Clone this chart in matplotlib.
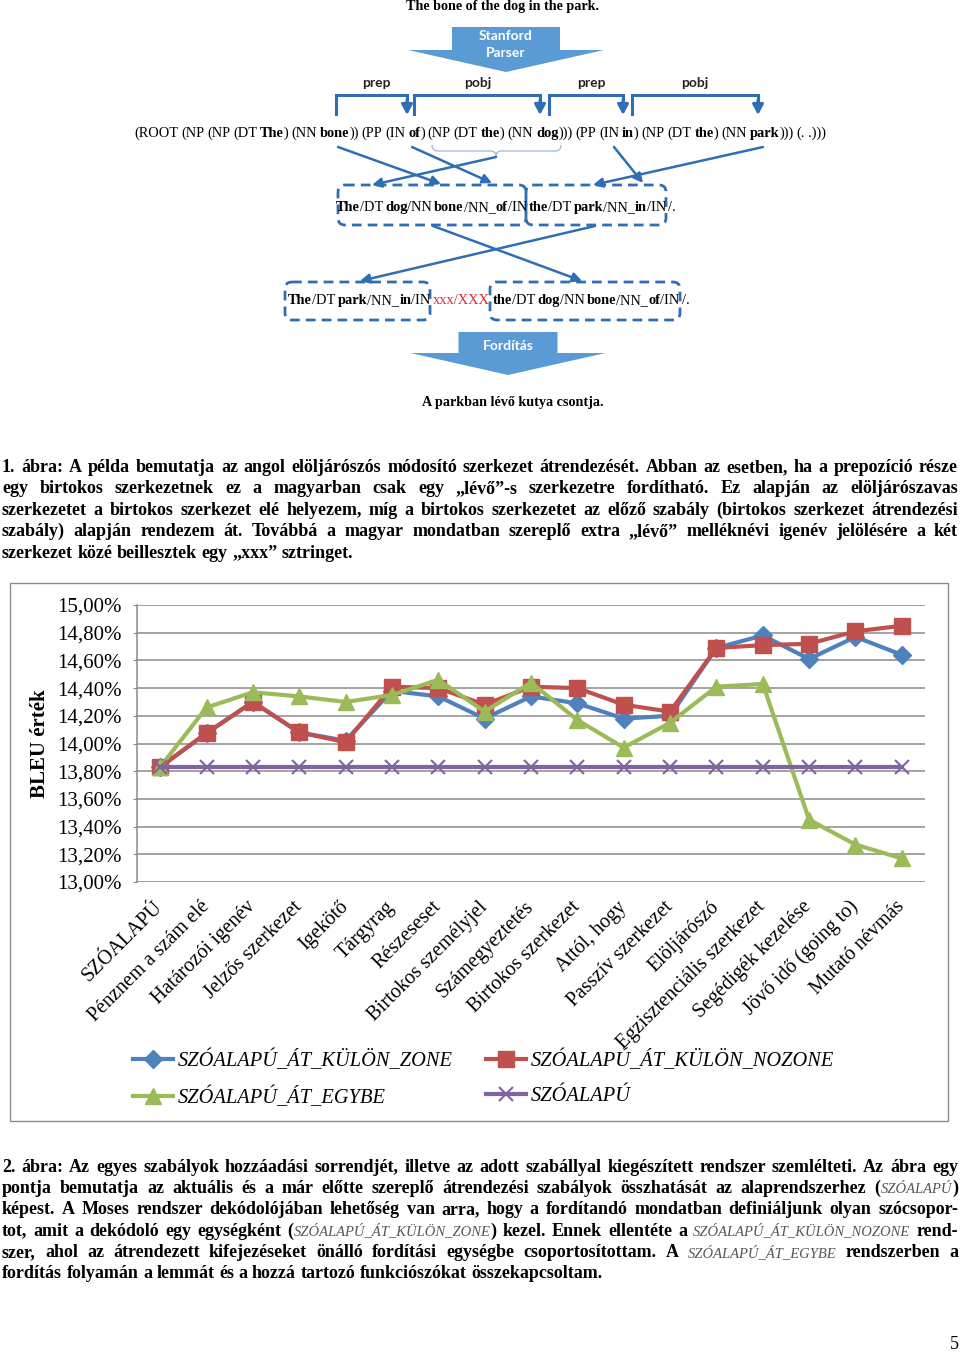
import matplotlib
matplotlib.use("Agg")
import matplotlib.pyplot as plt
from matplotlib.patches import Polygon, FancyBboxPatch, Rectangle, PathPatch
from matplotlib.path import Path
from matplotlib.ticker import FixedLocator, FuncFormatter

W, H = 960, 1355
SERIF = ["Liberation Serif", "DejaVu Serif"]
SANS = ["Lato", "DejaVu Sans"]
BLUE = "#2F6EB5"
FILL = "#5B9BD5"

# --- chart data (BLEU, %) ---
categories = [
    "SZÓALAPÚ", "Pénznem a szám elé", "Határozói igenév", "Jelzős szerkezet",
    "Igekötő", "Tárgyrag", "Részeseset", "Birtokos személyjel",
    "Számegyeztetés", "Birtokos szerkezet", "Attól, hogy", "Passzív szerkezet",
    "Elöljárószó", "Egzisztenciális szerkezet", "Segédigék kezelése",
    "Jövő idő (going to)", "Mutató névmás",
]
zone = [13.83, 14.075, 14.30, 14.08, 14.02, 14.38, 14.34, 14.18, 14.34,
        14.29, 14.18, 14.20, 14.69, 14.78, 14.61, 14.77, 14.64]
nozone = [13.83, 14.075, 14.30, 14.08, 14.01, 14.41, 14.40, 14.28, 14.41,
          14.40, 14.28, 14.23, 14.69, 14.71, 14.72, 14.81, 14.85]
egybe = [13.83, 14.26, 14.37, 14.34, 14.30, 14.35, 14.46, 14.23, 14.44,
         14.17, 13.97, 14.15, 14.41, 14.43, 13.45, 13.27, 13.17]
baseline = [13.83] * len(categories)
series_names = ["SZÓALAPÚ_ÁT_KÜLÖN_ZONE", "SZÓALAPÚ_ÁT_KÜLÖN_NOZONE",
                "SZÓALAPÚ_ÁT_EGYBE", "SZÓALAPÚ"]
y_ticks = [13.0, 13.2, 13.4, 13.6, 13.8, 14.0, 14.2, 14.4, 14.6, 14.8, 15.0]

# --- page text ---
caption1 = [
    "1. ábra: A példa bemutatja az angol elöljárószós módosító szerkezet átrendezését. Abban az esetben, ha a prepozíció része",
    "egy birtokos szerkezetnek ez a magyarban csak egy „lévő”-s szerkezetre fordítható. Ez alapján az elöljárószavas",
    "szerkezetet a birtokos szerkezet elé helyezem, míg a birtokos szerkezetet az előző szabály (birtokos szerkezet átrendezési",
    "szabály) alapján rendezem át. Továbbá a magyar mondatban szereplő extra „lévő” melléknévi igenév jelölésére a két",
    "szerkezet közé beillesztek egy „xxx” sztringet.",
]
caption2 = [
    "2. ábra: Az egyes szabályok hozzáadási sorrendjét, illetve az adott szabállyal kiegészített rendszer szemlélteti. Az ábra egy",
    "pontja bemutatja az aktuális és a már előtte szereplő átrendezési szabályok összhatását az alaprendszerhez (#SZÓALAPÚ#)",
    "képest. A Moses rendszer dekódolójában lehetőség van arra, hogy a fordítandó mondatban definiáljunk olyan szócsopor-",
    "tot, amit a dekódoló egy egységként (#SZÓALAPÚ_ÁT_KÜLÖN_ZONE#) kezel. Ennek ellentéte a #SZÓALAPÚ_ÁT_KÜLÖN_NOZONE# rend-",
    "szer, ahol az átrendezett kifejezéseket önálló fordítási egységbe csoportosítottam. A #SZÓALAPÚ_ÁT_EGYBE# rendszerben a",
    "fordítás folyamán a lemmát és a hozzá tartozó funkciószókat összekapcsoltam.",
]
parse_line = "(ROOT (NP (NP (DT *The*) (NN *bone*)) (PP (IN *of*) (NP (DT *the*) (NN *dog*))) (PP (IN *in*) (NP (DT *the*) (NN *park*))) (. .)))"
row1 = "*The*/DT *dog*/NN *bone*/NN_*of*/IN *the*/DT *park*/NN_*in*/IN /."
row2 = "*The*/DT *park*/NN_*in*/IN ^xxx/XXX^ *the*/DT *dog*/NN *bone*/NN_*of*/IN /."

STYLE = {
    "R": dict(family=SERIF),
    "B": dict(family=SERIF, weight="bold"),
    "X": dict(family=SERIF, color="#e3262e"),
    "I": dict(family=SERIF, style="italic", color="#555555"),
}


def parse(line, base):
    # '*' bold, '#' small italic, '^' red
    words = [[]]
    style = base
    buf = ""
    for ch in line + " ":
        if ch in "*#^" or ch == " ":
            if buf:
                words[-1].append((buf, style))
                buf = ""
            if ch == " ":
                if words[-1]:
                    words.append([])
            else:
                target = {"*": "B", "#": "I", "^": "X"}[ch]
                style = base if style == target else target
        else:
            buf += ch
    return [w for w in words if w]


def draw_line(ax, line, x0, y, size, base="R", x1=None, small=None, min_gap=0.18):
    rend = ax.figure.canvas.get_renderer()
    while True:
        words = []
        for word in parse(line, base):
            parts = []
            for text, st in word:
                fs = small if (st == "I" and small) else size
                t = ax.text(0, y, text, fontsize=fs, va="baseline", ha="left", **STYLE[st])
                parts.append((t, t.get_window_extent(rend).width))
            words.append(parts)
        total = sum(w for parts in words for _, w in parts)
        space = 0.25 * size * 100 / 72
        if x1 is None or len(words) < 2:
            break
        space = (x1 - x0 - total) / (len(words) - 1)
        if space >= min_gap * size * 100 / 72:
            break
        # too wide: shrink and retry
        for parts in words:
            for t, _ in parts:
                t.remove()
        size *= 0.98
        small = small * 0.98 if small else None
    x = x0
    for parts in words:
        for t, w in parts:
            t.set_x(x)
            x += w
        x += space


def block_arrow(ax, cx, top, shaft_w, neck, head_w, tip):
    pts = [(cx - shaft_w / 2, top), (cx + shaft_w / 2, top), (cx + shaft_w / 2, neck),
           (cx + head_w / 2, neck), (cx, tip), (cx - head_w / 2, neck),
           (cx - shaft_w / 2, neck)]
    ax.add_patch(Polygon(pts, closed=True, fc=FILL, ec="none"))


def arrow(ax, start, end, lw=1.8, head="head_length=0.55,head_width=0.28"):
    ax.annotate("", xy=end, xytext=start,
                arrowprops=dict(arrowstyle="-|>," + head, color=BLUE, lw=lw,
                                shrinkA=0, shrinkB=0))


fig = plt.figure(figsize=(W / 100, H / 100), dpi=100)
bg = fig.add_axes([0, 0, 1, 1])
bg.set_xlim(0, W)
bg.set_ylim(H, 0)
bg.axis("off")

# --- figure 1: reordering diagram ---
bg.text(502, 10, "The bone of the dog in the park.", fontsize=10.2, weight="bold",
        family=SERIF, ha="center", va="baseline")
block_arrow(bg, 506, 27, 108, 50, 196, 72)
bg.text(506, 36, "Stanford", color="white", fontsize=10, weight="bold",
        family=SANS, ha="center", va="center")
bg.text(506, 53, "Parser", color="white", fontsize=10, weight="bold",
        family=SANS, ha="center", va="center")

for label, lx in [("prep", 376), ("pobj", 478), ("prep", 591), ("pobj", 695)]:
    bg.text(lx, 83, label, fontsize=10, weight="bold", family=SANS,
            ha="center", va="center", color="#222222")
for xl, xr in [(336, 407), (414, 540), (549, 623), (632, 758)]:
    bg.plot([xl, xl, xr, xr], [114, 95, 95, 104], color=BLUE, lw=2.2,
            solid_joinstyle="miter")
    arrow(bg, (xr, 100), (xr, 115), lw=2.2, head="head_length=0.6,head_width=0.32")

draw_line(bg, parse_line, 134, 137, 10.4, base="R", x1=826)

M, L, C = Path.MOVETO, Path.LINETO, Path.CURVE3
brace = Path([(432, 145), (432, 151), (438, 151), (490, 151), (496, 151), (496, 156),
              (496, 151), (502, 151), (555, 151), (561, 151), (561, 145)],
             [M, C, C, L, C, C, C, C, L, C, C])
bg.add_patch(PathPatch(brace, fc="none", ec="#A9BCD0", lw=1))

for s, e in [((338, 147), (441, 184)), ((412, 147), (492, 183)), ((496, 157), (372, 185)),
             ((614, 147), (643, 183)), ((763, 147), (593, 185)),
             ((433, 226), (582, 281)), ((595, 226), (360, 281))]:
    arrow(bg, s, e)

for x0, y0, x1, y1 in [(338, 185, 526, 225), (526, 185, 666, 225),
                       (285, 282, 430, 320), (490, 282, 680, 320)]:
    bg.add_patch(FancyBboxPatch((x0, y0), x1 - x0, y1 - y0,
                                boxstyle="round,pad=0,rounding_size=7", fc="none",
                                ec=BLUE, lw=2, ls=(0, (3.5, 2.2))))

draw_line(bg, row1, 336, 211, 10.4, base="R", x1=676, min_gap=0.12)
draw_line(bg, row2, 288, 304, 10.4, base="R", x1=690, min_gap=0.12)

block_arrow(bg, 508, 332, 99, 353, 195, 375)
bg.text(508, 346, "Fordítás", color="white", fontsize=10, weight="bold",
        family=SANS, ha="center", va="center")
bg.text(513, 406, "A parkban lévő kutya csontja.", fontsize=10.2, weight="bold",
        family=SERIF, ha="center", va="baseline")

# --- captions ---
for i, line in enumerate(caption1):
    last = i == len(caption1) - 1
    draw_line(bg, line, 2, 472 + i * 21.4, 13, base="B", x1=None if last else 958)
for i, line in enumerate(caption2):
    last = i == len(caption2) - 1
    draw_line(bg, line, 2, 1172 + i * 21.2, 13, base="B",
              x1=None if last else 958, small=10.5)

bg.text(954, 1349, "5", fontsize=13, family=SERIF, ha="center", va="baseline")

# --- figure 2: BLEU chart ---
bg.add_patch(Rectangle((10, 583), 938, 538, fc="none", ec="#8C8C8C", lw=1))

ax = fig.add_axes([137 / W, 1 - 882 / H, 788 / W, 277 / H])
ax.set_facecolor("none")
xs = range(len(categories))
ax.plot(xs, zone, color="#4F81BD", lw=3, marker="D", ms=9, label=series_names[0])
ax.plot(xs, nozone, color="#C0504D", lw=3, marker="s", ms=11, label=series_names[1])
ax.plot(xs, egybe, color="#9BBB59", lw=3, marker="^", ms=12, label=series_names[2])
ax.plot(xs, baseline, color="#8064A2", lw=3, marker="x", ms=10, mew=1.5,
        label=series_names[3])

ax.set_xlim(-0.5, len(categories) - 0.5)
ax.set_ylim(y_ticks[0], y_ticks[-1])
ax.yaxis.set_major_locator(FixedLocator(y_ticks))
ax.yaxis.set_major_formatter(FuncFormatter(lambda v, p: f"{v:.2f}%".replace(".", ",")))
ax.grid(axis="y", color="#8A8A8A", lw=1.1)
ax.set_axisbelow(True)
for side in ["top", "right", "bottom"]:
    ax.spines[side].set_visible(False)
ax.spines["left"].set_color("#8A8A8A")
ax.spines["left"].set_linewidth(1.1)
ax.tick_params(axis="y", length=3, color="#8A8A8A", pad=8, labelsize=15)
for t in ax.get_yticklabels():
    t.set_family(SERIF)
ax.set_xticks(list(xs))
ax.set_xticklabels(categories, rotation=45, ha="right", va="center",
                   rotation_mode="anchor", fontsize=14.5, family=SERIF)
ax.tick_params(axis="x", length=0, pad=16)
ax.set_ylabel("BLEU érték", fontsize=15, weight="bold", family=SERIF)
ax.yaxis.set_label_coords((50 - 137) / 788, 0.5)

lines = ax.get_lines()
order = [0, 2, 1, 3]
fig.legend([lines[i] for i in order], [series_names[i] for i in order],
           loc="upper left", bbox_to_anchor=(133 / W, 1 - 1050 / H), ncol=2,
           frameon=False, prop=dict(family=SERIF, style="italic", size=14.7),
           handlelength=1.96, handletextpad=0.25, columnspacing=1.6,
           labelspacing=0.77, borderaxespad=0, borderpad=0)

fig.savefig("out.png", dpi=100)
